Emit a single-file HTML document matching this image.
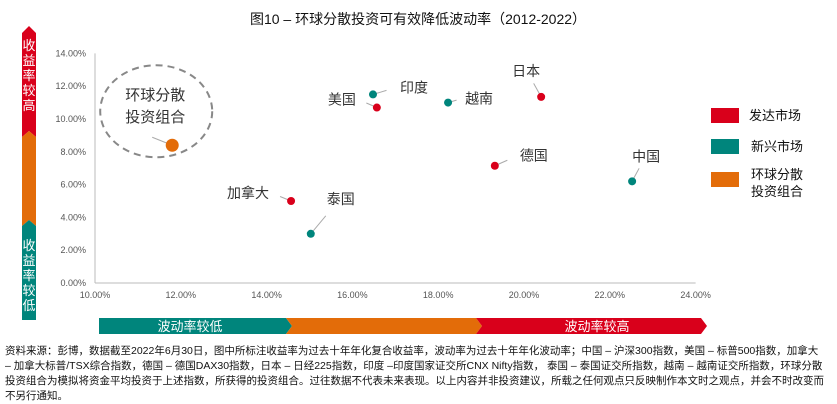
<!DOCTYPE html>
<html><head><meta charset="utf-8">
<style>
body{margin:0;background:#fff;width:837px;height:400px;overflow:hidden;font-family:"Liberation Sans","Noto Sans CJK SC",sans-serif;}
svg text{font-family:"Liberation Sans","Noto Sans CJK SC",sans-serif;}
#note{position:absolute;left:5px;top:344px;width:822px;font-size:10.5px;line-height:15px;color:#111;font-family:"Liberation Sans","Noto Sans CJK SC",sans-serif;}
</style></head><body>
<svg id="chart" width="837" height="400" style="position:absolute;left:0;top:0">
<text x="418" y="24" text-anchor="middle" font-size="14" fill="#111">图10 – 环球分散投资可有效降低波动率（2012-2022）</text>
<g>
<polygon points="22,33 29,26 36,33 36,137 29,131 22,137" fill="#d9001b"/>
<polygon points="22,137 29,131 36,137 36,226 29,220 22,226" fill="#e36c09"/>
<polygon points="22,226 29,220 36,226 36,320 22,320" fill="#00857c"/>
<text x="29" y="50" font-size="13" fill="#fff" text-anchor="middle"><tspan x="29" dy="0">收</tspan><tspan x="29" dy="15">益</tspan><tspan x="29" dy="15">率</tspan><tspan x="29" dy="15">较</tspan><tspan x="29" dy="15">高</tspan></text>
<text x="29" y="250" font-size="13" fill="#fff" text-anchor="middle"><tspan x="29" dy="0">收</tspan><tspan x="29" dy="15">益</tspan><tspan x="29" dy="15">率</tspan><tspan x="29" dy="15">较</tspan><tspan x="29" dy="15">低</tspan></text>
</g>
<g>
<polygon points="99,318 286,318 292,326 286,334 99,334" fill="#00857c"/>
<polygon points="286,318 476,318 482,326 476,334 286,334 292,326" fill="#e36c09"/>
<polygon points="476,318 701,318 707,326 701,334 476,334 482,326" fill="#d9001b"/>
<text x="190" y="331" font-size="13" fill="#fff" text-anchor="middle">波动率较低</text>
<text x="597" y="331" font-size="13" fill="#fff" text-anchor="middle">波动率较高</text>
</g>
<g id="axes"></g>
<g id="marks"></g>
<g>
<rect x="711" y="108" width="28" height="15" fill="#d9001b"/>
<text x="749" y="120" font-size="13" fill="#111">发达市场</text>
<rect x="711" y="139" width="28" height="15" fill="#00857c"/>
<text x="751" y="151" font-size="13" fill="#111">新兴市场</text>
<rect x="711" y="172" width="28" height="15" fill="#e36c09"/>
<text x="751" y="179" font-size="13" fill="#111"><tspan x="751">环球分散</tspan><tspan x="751" dy="17">投资组合</tspan></text>
</g>
</svg>
<div id="note">资料来源：彭博，数据截至2022年6月30日，图中所标注收益率为过去十年年化复合收益率，波动率为过去十年年化波动率；中国 – 沪深300指数，美国 – 标普500指数，加拿大 – 加拿大标普/TSX综合指数，德国 – 德国DAX30指数，日本 – 日经225指数，印度 –印度国家证交所CNX Nifty指数， 泰国 – 泰国证交所指数，越南 – 越南证交所指数，环球分散投资组合为模拟将资金平均投资于上述指数，所获得的投资组合。过往数据不代表未来表现。以上内容并非投资建议，所载之任何观点只反映制作本文时之观点，并会不时改变而不另行通知。</div>
<script>
const names=["环球分散投资组合","加拿大","泰国","美国","印度","越南","日本","德国","中国"];
const volatility=[11.8,14.57,15.03,16.57,16.48,18.23,20.4,19.32,22.52];
const returns=[8.4,5.0,3.0,10.7,11.5,11.0,11.35,7.15,6.2];
const groups=["p","d","e","d","e","e","d","d","e"];
const xTicks=[10,12,14,16,18,20,22,24];
const yTicks=[0,2,4,6,8,10,12,14];
const X=v=>95+(v-10)*42.9, Y=v=>283-v*16.4;
const col={d:"#d9001b",e:"#00857c",p:"#e36c09"};
const ns="http://www.w3.org/2000/svg";
function mk(t,a,p){const e=document.createElementNS(ns,t);for(const k in a)e.setAttribute(k,a[k]);p.appendChild(e);return e;}
const ax=document.getElementById('axes'),mg=document.getElementById('marks');
mk('line',{x1:95,y1:Y(14),x2:95,y2:283,stroke:'#bbb'},ax);
mk('line',{x1:95,y1:283,x2:X(24),y2:283,stroke:'#bbb'},ax);
yTicks.forEach(v=>{const t=mk('text',{x:86,y:Y(v)+3,'text-anchor':'end','font-size':9,fill:'#555'},ax);t.textContent=v.toFixed(2)+'%';

});
xTicks.forEach(v=>{const t=mk('text',{x:X(v),y:298,'text-anchor':'middle','font-size':9,fill:'#555'},ax);t.textContent=v.toFixed(2)+'%';

});
const lab=[[-17,-28,'middle'],[-22,-3,'end'],[30,-30,'middle'],[-21,-3,'end'],[27,-2,'start'],[17,1,'start'],[-15,-21,'middle'],[25,-5,'start'],[14,-20,'middle']];
const el=mk('ellipse',{cx:X(volatility[0])-16,cy:Y(returns[0])-34,rx:56,ry:46,fill:'none',stroke:'#888','stroke-width':2,'stroke-dasharray':'7,5'},mg);


names.forEach((n,i)=>{
 const x=X(volatility[i]),y=Y(returns[i]),L=lab[i];
 const l=mk('line',{x1:x,y1:y,x2:i==0?x-20:x+L[0]*0.5,y2:i==0?y-8:y+(L[1]-6)*0.5,stroke:'#aaa','stroke-width':1},mg);
 
 
 const c=mk('circle',{cx:x,cy:y,r:i==0?6.5:4,fill:col[groups[i]]},mg);
 
 
 let t;
 if(i==0){t=mk('text',{x:x+L[0],y:y+L[1]-17,'text-anchor':'middle','font-size':15,fill:'#333'},mg);
  t.innerHTML='<tspan x="'+(x+L[0])+'">环球分散</tspan><tspan x="'+(x+L[0])+'" dy="22">投资组合</tspan>';}
 else{t=mk('text',{x:x+L[0],y:y+L[1],'text-anchor':L[2],'font-size':14,fill:'#333'},mg);t.textContent=n;}
 
 
});
</script>
</body></html>
